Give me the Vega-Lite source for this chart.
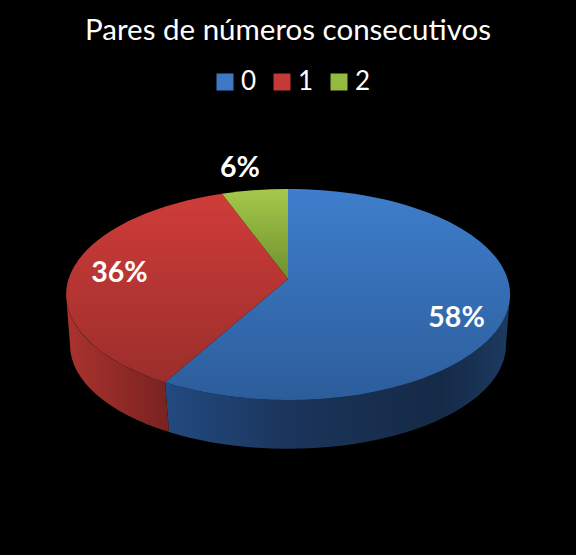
{
  "$schema": "https://vega.github.io/schema/vega-lite/v6.json",
  "description": "Pares de numeros consecutivos, 3D style pie",
  "background": "black",
  "autosize": "none",
  "width": 576,
  "height": 338,
  "padding": {"left": 0, "top": 110, "right": 0, "bottom": 107},
  "title": {
    "text": "Pares de números consecutivos",
    "color": "white",
    "font": "Lato",
    "fontSize": 29.5,
    "fontWeight": "normal",
    "anchor": "middle",
    "offset": 23
  },
  "data": {
    "values": [
      {"cat": 0, "value": 58, "label": "58%"},
      {"cat": 1, "value": 36, "label": "36%"},
      {"cat": 2, "value": 6, "label": "6%"}
    ]
  },
  "layer": [
    {
      "mark": {"type": "point", "filled": true, "opacity": 0},
      "encoding": {
        "color": {
          "field": "cat",
          "type": "nominal",
          "legend": {
            "orient": "none",
            "legendX": 212,
            "legendY": -41,
            "direction": "horizontal",
            "title": null,
            "symbolType": "square",
            "symbolSize": 289,
            "symbolStrokeWidth": 0,
            "symbolOpacity": 1,
            "labelColor": "white",
            "labelFont": "Lato",
            "labelFontSize": 26,
            "labelOffset": 3,
            "columnPadding": 12
          },
          "scale": {"domain": [0, 1, 2], "range": ["#3e78c4", "#c43a37", "#94bb3e"]}
        }
      }
    },
    {
      "transform": [{"filter": "datum.cat != 2"}],
      "mark": {"type": "point", "filled": true, "opacity": 1, "strokeWidth": 0},
      "encoding": {
        "size": {"value": 4},
        "shape": {
          "field": "cat",
          "type": "nominal",
          "legend": null,
          "scale": {
            "domain": [0, 1],
            "range": [
              "M222,15.5 A222,105.5 0 0 1 -123,103.3 L-119,153 A218,104 0 0 0 218,66 Z",
              "M-123,103.3 A222,105.5 0 0 1 -222,15.5 L-218,66 A218,104 0 0 0 -119,153 Z"
            ]
          }
        },
        "fill": {
          "condition": {
            "test": "datum.cat == 0",
            "value": {
              "gradient": "linear", "x1": 0, "y1": 0, "x2": 1, "y2": 0,
              "stops": [
                {"offset": 0, "color": "#224a80"},
                {"offset": 0.4, "color": "#1a3358"},
                {"offset": 0.8, "color": "#152a47"},
                {"offset": 1, "color": "#1c3a60"}
              ]
            }
          },
          "value": {
            "gradient": "linear", "x1": 0, "y1": 0, "x2": 1, "y2": 0,
            "stops": [
              {"offset": 0, "color": "#ab322e"},
              {"offset": 1, "color": "#782320"}
            ]
          }
        }
      }
    },
    {
      "mark": {"type": "point", "filled": true, "opacity": 1, "strokeWidth": 0},
      "encoding": {
        "size": {"value": 4},
        "shape": {
          "field": "cat",
          "type": "nominal",
          "legend": null,
          "scale": {
            "domain": [0, 1, 2],
            "range": [
              "M0,0 L0,-90 A222,105.5 0 1 1 -123,103.3 Z",
              "M0,0 L-123,103.3 A222,105.5 0 0 1 -66,-85.2 Z",
              "M0,0 L-66,-85.2 A222,105.5 0 0 1 0,-90 Z"
            ]
          }
        },
        "fill": {
          "condition": [
            {
              "test": "datum.cat == 0",
              "value": {
                "gradient": "linear", "x1": 0, "y1": 0, "x2": 0, "y2": 1,
                "stops": [
                  {"offset": 0, "color": "#3e7ecc"},
                  {"offset": 1, "color": "#2c5d9b"}
                ]
              }
            },
            {
              "test": "datum.cat == 1",
              "value": {
                "gradient": "linear", "x1": 0, "y1": 0, "x2": 0, "y2": 1,
                "stops": [
                  {"offset": 0, "color": "#cf3c39"},
                  {"offset": 1, "color": "#9b2e2b"}
                ]
              }
            }
          ],
          "value": {
            "gradient": "linear", "x1": 0, "y1": 0, "x2": 0, "y2": 1,
            "stops": [
              {"offset": 0, "color": "#a5c94a"},
              {"offset": 1, "color": "#6e8f2e"}
            ]
          }
        }
      }
    },
    {
      "mark": {"type": "text", "color": "white", "font": "Lato", "fontSize": 28.5, "fontWeight": "bold", "baseline": "middle", "dy": -4},
      "encoding": {
        "theta": {"field": "value", "type": "quantitative", "stack": true},
        "detail": {"field": "cat", "type": "nominal"},
        "order": {"field": "cat", "type": "ordinal"},
        "radius": {"value": 174},
        "text": {"condition": {"test": "datum.cat == 0", "field": "label"}, "value": ""}
      }
    },
    {
      "mark": {"type": "text", "color": "white", "font": "Lato", "fontSize": 28.5, "fontWeight": "bold", "baseline": "middle", "dy": 5},
      "encoding": {
        "theta": {"field": "value", "type": "quantitative", "stack": true},
        "detail": {"field": "cat", "type": "nominal"},
        "order": {"field": "cat", "type": "ordinal"},
        "radius": {"value": 169},
        "text": {"condition": {"test": "datum.cat == 1", "field": "label"}, "value": ""}
      }
    },
    {
      "mark": {"type": "text", "color": "white", "font": "Lato", "fontSize": 28.5, "fontWeight": "bold", "baseline": "middle", "dx": -27},
      "encoding": {
        "theta": {"field": "value", "type": "quantitative", "stack": true},
        "detail": {"field": "cat", "type": "nominal"},
        "order": {"field": "cat", "type": "ordinal"},
        "radius": {"value": 113},
        "text": {"condition": {"test": "datum.cat == 2", "field": "label"}, "value": ""}
      }
    }
  ],
  "resolve": {"scale": {"color": "independent", "shape": "independent"}},
  "config": {"view": {"stroke": null}}
}
